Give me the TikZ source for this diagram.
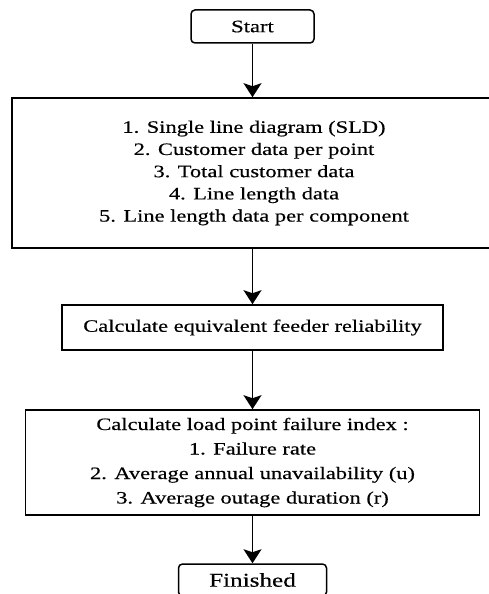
\documentclass[tikz,border=0pt]{standalone}
\usepackage{fontspec}
\setmainfont{Liberation Serif}[FakeStretch=1.29,FakeBold=0.4]
\usetikzlibrary{arrows.meta}

\begin{document}
\begin{tikzpicture}[x=1pt,y=-1pt,
	term/.style={draw,line width=1.5pt,rounded corners=4pt,inner sep=0pt},
	proc/.style={draw,line width=1.6pt,inner sep=0pt,align=center},
	flow/.style={line width=1.4pt,-{Stealth[length=14pt,width=18pt,inset=3pt]}}]
	\useasboundingbox (0,0) rectangle (489,594);

	% nodes
	\node [term,minimum width=123pt,minimum height=33pt,font=\fontsize{17.5}{19}\selectfont] (start) at (252.5,26.5) {Start};
	\node [proc,minimum width=484pt,minimum height=150pt,font=\fontsize{17.4}{22.2}\selectfont] (data) at (254,173) {1. Single line diagram (SLD)\\2. Customer data per point\\3. Total customer data\\4. Line length data\\5. Line length data per component};
	\node [proc,minimum width=381pt,minimum height=45pt,font=\fontsize{17.4}{20}\selectfont] (feeder) at (252.5,327.5) {Calculate equivalent feeder reliability};
	\node [proc,minimum width=454pt,minimum height=105pt,font=\fontsize{17.4}{24.5}\selectfont] (index) at (252.5,462.5) {Calculate load point failure index :\\1. Failure rate\\2. Average annual unavailability (u)\\3. Average outage duration (r)};
	\node [term,minimum width=148pt,minimum height=32pt,font=\fontsize{19.5}{22}\selectfont] (finish) at (252.5,580) {Finished};

	%lines
	\draw [flow] (start) -- (start |- data.north);
	\draw [flow] (start |- data.south) -- (feeder);
	\draw [flow] (feeder) -- (index);
	\draw [flow] (index) -- (finish);
\end{tikzpicture}
\end{document}
